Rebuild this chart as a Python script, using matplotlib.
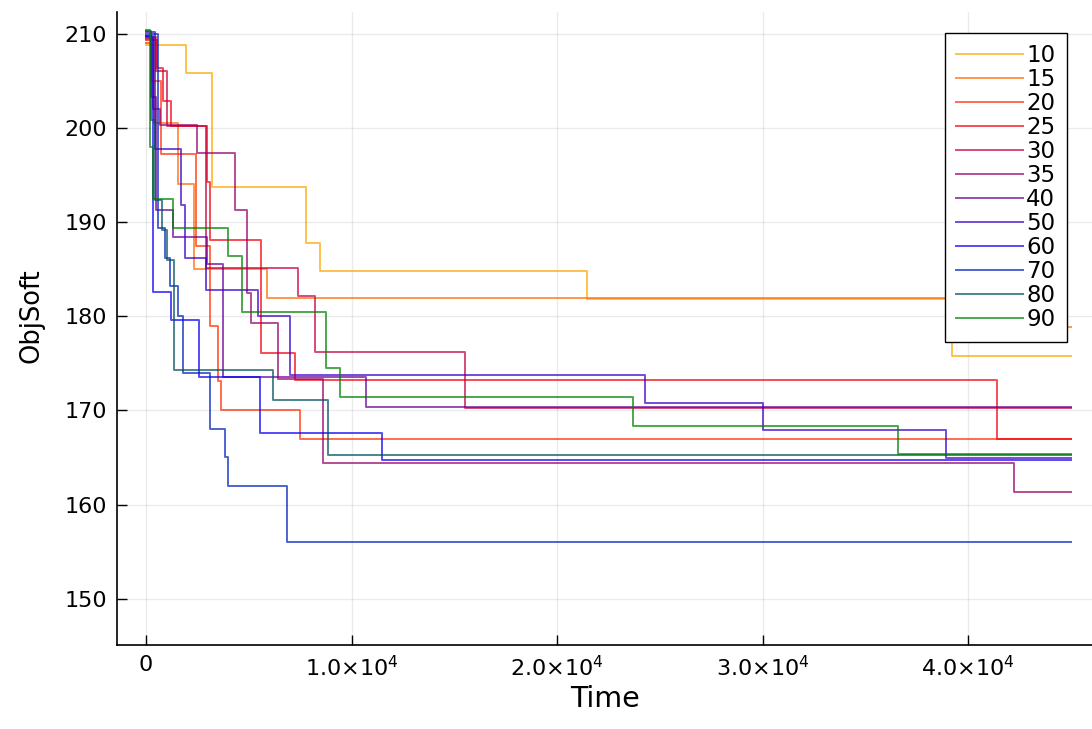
import matplotlib
matplotlib.use("Agg")
import matplotlib.pyplot as plt
import numpy as np

plt.rcParams["mathtext.fontset"] = "dejavusans"

# ---------------- data (step series: time where value starts, value) ----------------
labels = ["10", "15", "20", "25", "30", "35", "40", "50", "60", "70", "80", "90"]
t_end = 45000

t10 = [0, 1960, 3210, 7810, 8460, 21440, 39230]
v10 = [208.8, 205.8, 193.7, 187.8, 184.8, 181.8, 175.8]

t15 = [0, 400, 1550, 2330, 5870, 43000]
v15 = [209.4, 200.5, 194.0, 185.0, 181.9, 178.9]

t20 = [0, 250, 750, 2430, 3110, 3510, 3630, 7490]
v20 = [209.0, 205.0, 197.2, 187.5, 179.0, 173.1, 170.0, 167.0]

t25 = [0, 550, 850, 1230, 2960, 3120, 5620, 7240, 41400]
v25 = [209.3, 206.4, 202.8, 200.2, 194.3, 188.1, 176.1, 173.2, 167.0]

t30 = [0, 500, 1000, 2940, 7400, 8220, 15540]
v30 = [209.6, 206.0, 200.2, 185.1, 182.1, 176.2, 170.3]

t35 = [0, 350, 700, 2460, 4330, 4900, 5130, 6430, 8620, 42250]
v35 = [209.5, 202.0, 200.3, 197.3, 191.3, 182.5, 179.3, 173.3, 164.4, 161.3]

t40 = [0, 250, 500, 1300, 2960, 3760, 10700]
v40 = [209.8, 203.3, 191.3, 188.4, 185.6, 173.5, 170.4]

t50 = [0, 450, 1720, 1880, 2940, 5460, 7000, 24290, 30000, 38950]
v50 = [210.2, 197.8, 191.8, 186.2, 182.8, 180.0, 173.8, 170.8, 167.9, 164.9]

t60 = [0, 330, 1215, 2580, 5540, 11460]
v60 = [209.7, 182.6, 179.6, 173.6, 167.6, 164.7]

t70 = [0, 600, 910, 1150, 1550, 1780, 3110, 3840, 4000, 6840]
v70 = [210.0, 189.4, 186.2, 183.2, 180.0, 174.0, 168.0, 165.1, 162.0, 156.0]

t80 = [0, 250, 450, 800, 1000, 1380, 6190, 8860]
v80 = [210.3, 200.8, 192.3, 189.2, 186.0, 174.3, 171.1, 165.3]

t90 = [0, 200, 350, 1310, 3990, 4650, 8780, 9430, 23720, 36600]
v90 = [210.4, 198.0, 192.4, 189.4, 186.4, 180.4, 174.5, 171.4, 168.4, 165.4]

times = [t10, t15, t20, t25, t30, t35, t40, t50, t60, t70, t80, t90]
values = [v10, v15, v20, v25, v30, v35, v40, v50, v60, v70, v80, v90]

# colour gradient orange -> red -> purple -> blue -> green
anchors = np.array([[1.0, 0.647, 0.0], [1.0, 0.0, 0.0], [0.5, 0.0, 0.5],
                    [0.0, 0.0, 1.0], [0.0, 0.5, 0.0]])
def grad(f):
    p = f * (len(anchors) - 1)
    i = min(int(p), len(anchors) - 2)
    w = p - i
    return tuple(anchors[i] * (1 - w) + anchors[i + 1] * w)

W, H = 1092, 729
fig = plt.figure(figsize=(W / 100, H / 100), dpi=100)
ax = fig.add_axes([117 / W, 1 - 645 / H, (W - 117) / W, (645 - 12) / H])

n = len(labels)
for k, (t, v, lab) in enumerate(zip(times, values, labels)):
    tt = list(t) + [t_end]
    vv = list(v) + [v[-1]]
    ax.step(tt, vv, where="post", color=grad(k / (n - 1)), alpha=0.7,
            lw=1.4, label=lab)

ax.set_xlim(-1410, 46030)
ax.set_ylim(145.1, 212.3)
ax.set_xticks([0, 10000, 20000, 30000, 40000])
ax.set_xticklabels(["0", r"$1.0{\times}10^{4}$", r"$2.0{\times}10^{4}$",
                    r"$3.0{\times}10^{4}$", r"$4.0{\times}10^{4}$"])
ax.set_yticks([150, 160, 170, 180, 190, 200, 210])
ax.tick_params(direction="in", length=7, width=1, labelsize=16, colors="black",
               pad=7)
ax.grid(True, color="black", alpha=0.08, lw=1)
for s in ["top", "right"]:
    ax.spines[s].set_visible(False)
for s in ["left", "bottom"]:
    ax.spines[s].set_linewidth(1.2)
ax.set_xlabel("Time", fontsize=20.5, labelpad=4)
ax.set_ylabel("ObjSoft", fontsize=18.5)
ax.yaxis.set_label_coords(-0.074, 0.52)

leg = ax.legend(loc="upper right", bbox_to_anchor=(1067 / W, 1 - 33 / H),
                bbox_transform=fig.transFigure, borderaxespad=0, fontsize=16.5,
                handlelength=2.9, handletextpad=0.15, labelspacing=0.04,
                fancybox=False, framealpha=1, edgecolor="black",
                borderpad=0.5)
leg.get_frame().set_linewidth(1.0)

fig.savefig("out.png", dpi=100)
